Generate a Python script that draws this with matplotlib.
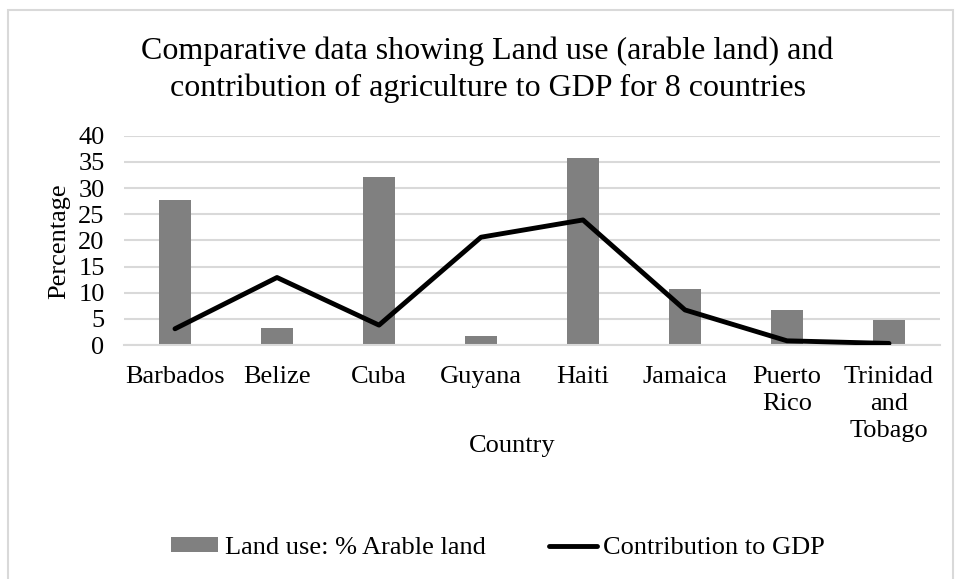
import numpy as np
import matplotlib
matplotlib.use('Agg')
import matplotlib.pyplot as plt
from matplotlib.patches import Rectangle

countries = ['Barbados', 'Belize', 'Cuba', 'Guyana', 'Haiti', 'Jamaica',
             'Puerto\nRico', 'Trinidad\nand\nTobago']
arable = [27.7, 3.2, 32.2, 1.8, 35.8, 10.7, 6.6, 4.8]
gdp = [3.1, 12.9, 3.8, 20.6, 23.9, 6.7, 0.8, 0.3]
yticks = [0, 5, 10, 15, 20, 25, 30, 35, 40]

plt.rcParams['font.family'] = ['Liberation Serif', 'DejaVu Serif']
FS = 19

fig = plt.figure(figsize=(9.55, 5.79), dpi=100)
fig.patches.append(Rectangle((8/955, -0.1), 945/955, 1.1 - 10/579,
                             transform=fig.transFigure, fill=False,
                             edgecolor='#d9d9d9', lw=1.5))

ax = fig.add_axes([124/955, 1 - 345/579, 816/955, (345 - 135.7)/579])
x = np.arange(len(countries))
bars = ax.bar(x, arable, width=0.31, color='#808080', zorder=2,
              label='Land use: % Arable land')
line, = ax.plot(x, gdp, color='black', lw=3.5, zorder=3,
                solid_capstyle='round', solid_joinstyle='round',
                label='Contribution to GDP')

ax.set_xlim(-0.5, len(countries) - 0.5)
ax.set_ylim(0, 40)
ax.set_yticks(yticks)
ax.set_xticks(x)
ax.set_xticklabels(countries, fontsize=FS, linespacing=1.3, va='top')
ax.tick_params(axis='y', labelsize=FS, length=0, pad=14)
ax.tick_params(axis='x', length=0, pad=15)
ax.yaxis.grid(True, color='#d9d9d9', lw=1.5, zorder=0)
for s in ['top', 'right', 'left']:
    ax.spines[s].set_visible(False)
ax.spines['bottom'].set_color('#d9d9d9')
ax.spines['bottom'].set_linewidth(1.5)

fig.text(59 / 955, 1 - 241 / 579, 'Percentage', fontsize=FS, rotation=90,
         ha='center', va='center')
fig.text(512 / 955, 1 - 446 / 579, 'Country', fontsize=FS,
         ha='center', va='center')

fig.text(487.5 / 955, 1 - 70 / 579,
         'Comparative data showing Land use (arable land) and\n'
         'contribution of agriculture to GDP for 8 countries',
         fontsize=23, ha='center', va='center', linespacing=1.32)

fig.legend([bars, line], ['Land use: % Arable land', 'Contribution to GDP'],
           loc='center', bbox_to_anchor=(498 / 955, 1 - 548 / 579), ncol=2,
           frameon=False, fontsize=FS, handlelength=1.8, handletextpad=0.25,
           columnspacing=2.4, handleheight=0.5)

fig.savefig('out.png', dpi=100)
